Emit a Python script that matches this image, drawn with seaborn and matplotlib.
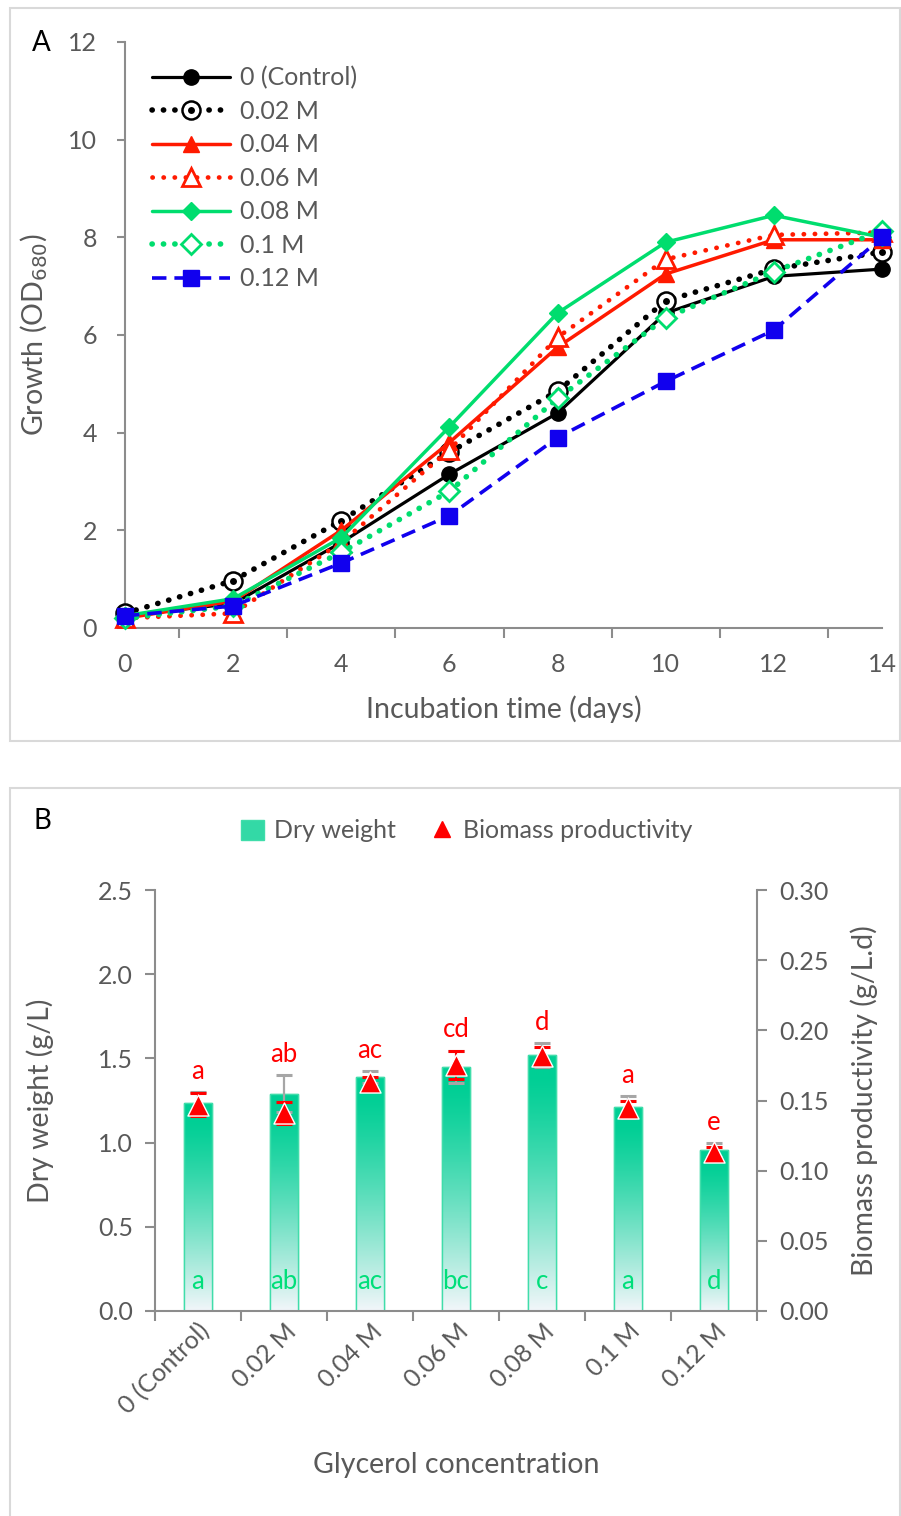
import numpy as np
import pandas as pd
import matplotlib
matplotlib.use("Agg")
import matplotlib.pyplot as plt
import seaborn as sns
from matplotlib.lines import Line2D
from matplotlib.patches import Rectangle, Patch
from matplotlib.legend_handler import HandlerTuple

# ---------------- data ----------------
days = [0, 2, 4, 6, 8, 10, 12, 14]
od_control = [0.25, 0.50, 1.75, 3.15, 4.40, 6.45, 7.20, 7.35]
od_002 = [0.30, 0.97, 2.20, 3.60, 4.85, 6.70, 7.35, 7.70]
od_004 = [0.20, 0.55, 2.00, 3.80, 5.75, 7.25, 7.95, 7.95]
od_006 = [0.20, 0.30, 1.75, 3.65, 5.95, 7.55, 8.05, 8.10]
od_008 = [0.25, 0.60, 1.85, 4.12, 6.45, 7.90, 8.45, 8.00]
od_010 = [0.20, 0.45, 1.55, 2.80, 4.70, 6.35, 7.30, 8.13]
od_012 = [0.25, 0.45, 1.33, 2.30, 3.90, 5.05, 6.10, 8.00]
series_labels = ["0 (Control)", "0.02 M", "0.04 M", "0.06 M", "0.08 M", "0.1 M", "0.12 M"]

conc_labels = ["0 (Control)", "0.02 M", "0.04 M", "0.06 M", "0.08 M", "0.1 M", "0.12 M"]
dry_weight = [1.235, 1.29, 1.39, 1.45, 1.52, 1.21, 0.955]
dry_err = [0.065, 0.11, 0.035, 0.095, 0.07, 0.065, 0.04]
productivity = [0.147, 0.141, 0.163, 0.175, 0.182, 0.145, 0.113]
prod_err = [0.008, 0.008, 0.004, 0.010, 0.006, 0.005, 0.004]
dry_letters = ["a", "ab", "ac", "bc", "c", "a", "d"]
prod_letters = ["a", "ab", "ac", "cd", "d", "a", "e"]

# ---------------- style ----------------
sns.set_theme(style="white")
plt.rcParams['font.family'] = ['Lato', 'DejaVu Sans']
GRAY = "#8C8C8C"
TXT = "#595959"
TICK_FS = 18
LAB_FS = 20.5

fig = plt.figure(figsize=(9.01, 15.16), dpi=100)
W, H = 901, 1516

def fx(px):
    return px / W

def fy(py):
    return 1 - py / H

# panel frames
fig.patches.append(Rectangle((fx(10), fy(741)), fx(890), (733) / H, transform=fig.transFigure,
                             fill=False, edgecolor="#D9D9D9", lw=1.5, zorder=0))
fig.patches.append(Rectangle((fx(10), fy(1520)), fx(890), (1520 - 788) / H, transform=fig.transFigure,
                             fill=False, edgecolor="#D9D9D9", lw=1.5, zorder=0))
fig.text(fx(41), fy(43), "A", fontsize=20, color="black", ha="center", va="center")
fig.text(fx(42), fy(821), "B", fontsize=20, color="black", ha="center", va="center")

# ---------------- panel A ----------------
axA = fig.add_axes([fx(125), fy(628), fx(882) - fx(125), (628 - 42) / H])

dot_ls = (0, (0.05, 2.0))
specs = [
    (od_control, dict(color="black", linestyle="-", lw=2.3, marker="o", markersize=11,
                      markerfacecolor="black", markeredgecolor="black", markeredgewidth=1)),
    (od_002, dict(color="black", linestyle=dot_ls, lw=4.0, dash_capstyle="round", marker="o", markersize=13,
                  markerfacecolor="white", markeredgecolor="black", markeredgewidth=1.8)),
    (od_004, dict(color="#FF1A00", linestyle="-", lw=2.5, marker="^", markersize=12,
                  markerfacecolor="#FF1A00", markeredgecolor="#FF1A00", markeredgewidth=1)),
    (od_006, dict(color="#FF1A00", linestyle=(0, (0.05, 2.3)), lw=3.4, dash_capstyle="round", marker="^",
                  markersize=13, markerfacecolor="white", markeredgecolor="#FF1A00", markeredgewidth=2)),
    (od_008, dict(color="#00DD6E", linestyle="-", lw=2.5, marker="D", markersize=9,
                  markerfacecolor="#00DD6E", markeredgecolor="#00DD6E", markeredgewidth=1)),
    (od_010, dict(color="#00DD6E", linestyle=dot_ls, lw=4.0, dash_capstyle="round", marker="D", markersize=10,
                  markerfacecolor="white", markeredgecolor="#00DD6E", markeredgewidth=2)),
    (od_012, dict(color="#1100EE", linestyle=(0, (4, 2.2)), lw=2.6, marker="s", markersize=11,
                  markerfacecolor="#1100EE", markeredgecolor="#1100EE", markeredgewidth=1)),
]
handles = []
for i, (vals, kw) in enumerate(specs):
    df = pd.DataFrame({"day": days, "od": vals})
    sns.lineplot(data=df, x="day", y="od", ax=axA, zorder=3 + i, clip_on=False, **kw)
    h = Line2D([], [], **kw)
    if i == 1:
        sns.lineplot(data=df, x="day", y="od", ax=axA, zorder=3 + i, linestyle="none", marker="o",
                     markersize=5, markerfacecolor="black", markeredgecolor="black", markeredgewidth=0,
                     clip_on=False)
        h = (h, Line2D([], [], linestyle="none", marker="o", markersize=5, color="black", markeredgewidth=0))
    handles.append(h)

axA.set_xlim(0, 14)
axA.set_ylim(0, 12)
axA.set_xticks(days)
axA.set_xticks(np.arange(1, 14, 2), minor=True)
axA.set_yticks(np.arange(0, 13, 2))
axA.tick_params(axis="x", which="major", length=0, pad=18, labelsize=TICK_FS, labelcolor=TXT)
axA.tick_params(axis="x", which="minor", bottom=True, length=7, width=1.5, color=GRAY, direction="out")
axA.tick_params(axis="y", which="major", left=True, length=6, width=1.5, color=GRAY, direction="out",
                pad=14, labelsize=TICK_FS, labelcolor=TXT)
for s in ["top", "right"]:
    axA.spines[s].set_visible(False)
for s in ["left", "bottom"]:
    axA.spines[s].set_color(GRAY)
    axA.spines[s].set_linewidth(1.5)
axA.set_xlabel("Incubation time (days)", fontsize=LAB_FS, color=TXT)
axA.set_ylabel("Growth (OD$_{680}$)", fontsize=LAB_FS, color=TXT)
axA.xaxis.set_label_coords(0.5, (628 - 695) / (628 - 42))
axA.yaxis.set_label_coords((50 - 125) / (882 - 125), 0.5)
legA = axA.legend(handles, series_labels, loc="upper left", bbox_to_anchor=((152 - 125) / 757, (628 - 66) / 586),
                  frameon=False, fontsize=18, handlelength=3.1, labelspacing=0.42, handletextpad=0.4,
                  borderaxespad=0, borderpad=0,
                  handler_map={tuple: HandlerTuple(ndivide=1, pad=0)})
for t in legA.get_texts():
    t.set_color(TXT)

# ---------------- panel B ----------------
axB = fig.add_axes([fx(155), fy(1311), fx(757) - fx(155), (1311 - 890) / H])
dfB = pd.DataFrame({"conc": conc_labels, "dry": dry_weight})
BAR_GREEN = "#00CF95"
sns.barplot(data=dfB, x="conc", y="dry", ax=axB, width=0.33, color=BAR_GREEN, errorbar=None,
            edgecolor="#3FDDAA", linewidth=1.0, saturation=1, zorder=2)
axB.set_xlim(-0.5, 6.5)
axB.set_ylim(0, 2.5)

# gradient fill on bars
grad = np.linspace(0, 1, 256).reshape(-1, 1)
top_c = np.array(matplotlib.colors.to_rgb(BAR_GREEN))
bot_c = np.array(matplotlib.colors.to_rgb("#F2F6FA"))
tt = np.clip((grad - 0.08) / 0.92, 0, 1) ** 1.25
img = top_c * (1 - tt[..., None]) + bot_c * tt[..., None]
img = img.reshape(256, 1, 3)
for p in list(axB.patches):
    x0, y0 = p.get_x(), p.get_y()
    w, h = p.get_width(), p.get_height()
    im = axB.imshow(img, extent=[x0, x0 + w, y0, y0 + h], aspect="auto", origin="upper", zorder=2.1,
                    interpolation="bilinear")
    im.set_clip_path(p)
    edge = Rectangle((x0, y0), w, h, fill=False, edgecolor="#40DDAA", lw=1.0, zorder=2.2)
    axB.add_patch(edge)
axB.set_xlim(-0.5, 6.5)
axB.set_ylim(0, 2.5)

xpos = np.arange(len(conc_labels))
eb = axB.errorbar(xpos, dry_weight, yerr=dry_err, fmt="none", ecolor="#A6A6A6", elinewidth=1.6,
                  capsize=6, capthick=2.2, zorder=3)
for cl in eb[1]:
    cl.set_color("#00A040")

axR = axB.twinx()
axR.set_ylim(0, 0.30)
ebr = axR.errorbar(xpos, productivity, yerr=prod_err, fmt="none", ecolor="#FF0000", elinewidth=1.4,
                   capsize=6, capthick=2.2, zorder=4)
dfP = pd.DataFrame({"x": xpos, "prod": productivity})
sns.scatterplot(data=dfP, x="x", y="prod", ax=axR, marker="^", s=230, color="#FF0000",
                edgecolor="white", linewidth=1.0, zorder=5)
axR.set_xlim(-0.5, 6.5)
axR.set_xlabel("")

# letters
for i in range(len(conc_labels)):
    top_l = max(dry_weight[i] + dry_err[i], (productivity[i] + prod_err[i]) * 2.5 / 0.30)
    axB.annotate(prod_letters[i], (xpos[i], top_l), xytext=(0, 6), textcoords="offset points",
                 ha="center", va="bottom", fontsize=18.5, color="#FF0000", zorder=6)
    axB.annotate(dry_letters[i], (xpos[i], 0), xytext=(0, 21), textcoords="offset points",
                 ha="center", va="center", fontsize=18.5, color="#00DF7A", zorder=6)

axB.set_xticks(xpos)
axB.set_xticklabels(conc_labels, rotation=45, ha="right", rotation_mode="anchor")
axB.set_xticks(np.arange(-0.5, 7, 1), minor=True)
axB.tick_params(axis="x", which="major", length=0, pad=6, labelsize=TICK_FS, labelcolor=TXT)
axB.tick_params(axis="x", which="minor", bottom=True, length=7, width=1.5, color=GRAY, direction="out")
axB.set_yticks(np.arange(0, 2.51, 0.5))
axB.set_yticklabels([f"{v:.1f}" for v in np.arange(0, 2.51, 0.5)])
axB.tick_params(axis="y", which="major", left=True, length=7, width=1.5, color=GRAY, direction="out",
                pad=9, labelsize=TICK_FS, labelcolor=TXT)
axR.set_yticks(np.arange(0, 0.301, 0.05))
axR.set_yticklabels([f"{v:.2f}" for v in np.arange(0, 0.301, 0.05)])
axR.tick_params(axis="y", which="major", right=True, length=7, width=1.5, color=GRAY, direction="out",
                pad=9, labelsize=TICK_FS, labelcolor=TXT)
for ax in (axB, axR):
    ax.spines["top"].set_visible(False)
    for s in ["left", "right", "bottom"]:
        ax.spines[s].set_color(GRAY)
        ax.spines[s].set_linewidth(1.5)
axB.spines["right"].set_visible(False)
axR.spines["left"].set_visible(False)
axR.spines["bottom"].set_visible(False)

axB.set_xlabel("Glycerol concentration", fontsize=LAB_FS, color=TXT)
axB.xaxis.set_label_coords(0.5, (1311 - 1452) / 421)
axB.set_ylabel("Dry weight (g/L)", fontsize=LAB_FS, color=TXT)
axB.yaxis.set_label_coords((54 - 155) / 602, 0.5)
axR.set_ylabel("Biomass productivity (g/L.d)", fontsize=LAB_FS, color=TXT, rotation=90)
axR.yaxis.set_label_coords(1 + (850 - 757) / 602, 0.5)

legB = fig.legend([Patch(facecolor="#33D9A6", edgecolor="#3FDDAA"),
                   Line2D([], [], linestyle="none", marker="^", markersize=11, color="#FF0000")],
                  ["Dry weight", "Biomass productivity"], loc="center",
                  bbox_to_anchor=(fx(467), fy(831)), ncol=2, frameon=False, fontsize=18,
                  handlelength=0.9, handleheight=0.9, handletextpad=0.4, columnspacing=1.4)
for t in legB.get_texts():
    t.set_color(TXT)

fig.savefig("out.png", dpi=100)
